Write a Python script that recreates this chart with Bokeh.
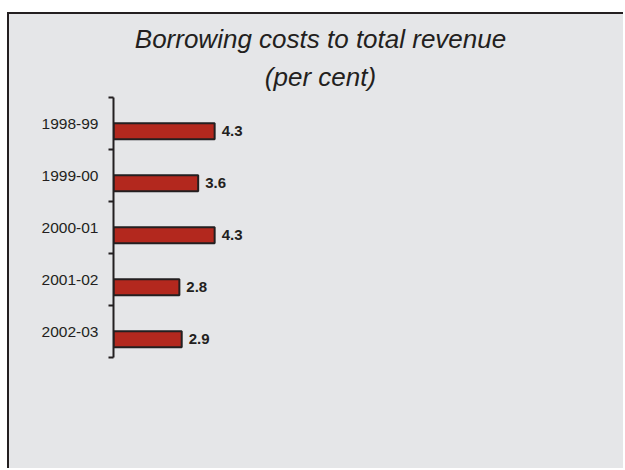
from bokeh.plotting import figure
from bokeh.models import Range1d, FixedTicker, Title, ColumnDataSource
from bokeh.core.properties import value
from bokeh.transform import dodge
from bokeh.embed import file_html
from bokeh.resources import INLINE

categories = ["1998-99", "1999-00", "2000-01", "2001-02", "2002-03"]
values = [4.3, 3.6, 4.3, 2.8, 2.9]
value_labels = ["4.3", "3.6", "4.3", "2.8", "2.9"]
title_lines = ["Borrowing costs to total revenue", "(per cent)"]

BG = "#E5E6E8"
INK = "#231F20"
BAR = "#B3281E"

pos = list(range(len(categories)))
src = ColumnDataSource(dict(y=pos, v=values, lab=value_labels))

p = figure(width=616, height=456, output_backend="svg", toolbar_location=None,
           x_range=Range1d(0, 17.6), y_range=Range1d(len(categories) - 0.5, -0.5),
           min_border_left=104, min_border_right=98, min_border_top=83, min_border_bottom=113,
           background_fill_color=BG, background_fill_alpha=0.0,
           border_fill_color=BG, border_fill_alpha=0.0, outline_line_color=None)
p.styles = {"margin-left": "7px", "margin-top": "12px", "background-color": BG,
            "border-top": "2px solid #231F20", "border-left": "2px solid #231F20"}

p.grid.visible = False
p.xaxis.visible = False

ax = p.yaxis[0]
ax.ticker = FixedTicker(ticks=pos, minor_ticks=[i - 0.5 for i in range(len(categories) + 1)])
ax.major_label_overrides = {i: c for i, c in zip(pos, categories)}
ax.major_tick_line_color = None
ax.major_tick_out = 0
ax.major_tick_in = 0
ax.minor_tick_line_color = INK
ax.minor_tick_line_width = 2
ax.minor_tick_out = 5
ax.minor_tick_in = 0
ax.axis_line_color = INK
ax.axis_line_width = 2
ax.major_label_standoff = 10
ax.major_label_text_font = "Liberation Sans"
ax.major_label_text_font_size = "15.5px"
ax.major_label_text_color = INK

yb = dodge("y", 0.15, range=p.y_range)
p.hbar(y=yb, right="v", left=0, height=0.31, source=src,
       fill_color=BAR, line_color=INK, line_width=2)
p.text(x="v", y=yb, text="lab", source=src, x_offset=7,
       text_baseline="middle", text_align="left",
       text_font_size="15px", text_font_style="bold", text_color=INK,
       text_font=value("Liberation Sans"))

t2 = Title(text=title_lines[1], align="center",
           text_font="Liberation Sans", text_font_size="26px", text_font_style="italic",
           text_color=INK, standoff=12)
t1 = Title(text=title_lines[0], align="center",
           text_font="Liberation Sans", text_font_size="26px", text_font_style="italic",
           text_color=INK, standoff=0)
p.add_layout(t2, "above")
p.add_layout(t1, "above")

open("out.html", "w").write(file_html(p, INLINE))
